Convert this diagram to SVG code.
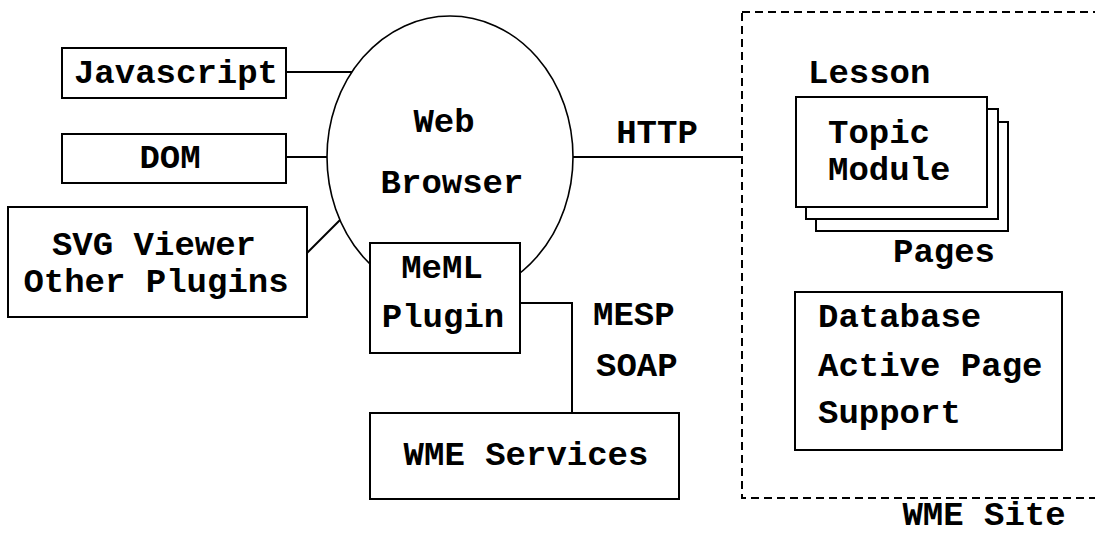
<svg xmlns="http://www.w3.org/2000/svg" width="1095" height="535" viewBox="0 0 1095 535">
<style>
  .box { fill: #fff; stroke: #000; stroke-width: 2; }
  .conn { fill: none; stroke: #000; stroke-width: 2; }
  .t { font-family: "Liberation Mono", "DejaVu Sans Mono", monospace; font-weight: bold; font-size: 34px; fill: #000; }
  .m { text-anchor: middle; }
</style>
<rect width="1095" height="535" fill="#fff"/>
<g id="wme-site">
  <rect x="742" y="12" width="370" height="486" fill="none" stroke="#000" stroke-width="2" stroke-dasharray="8 5"/>
  <text class="t m" x="984" y="525">WME Site</text>
</g>
<g id="connectors">
  <line class="conn" x1="286" y1="72" x2="352" y2="72"/>
  <line class="conn" x1="286" y1="157" x2="328" y2="157"/>
  <line class="conn" x1="307" y1="253" x2="340" y2="220"/>
  <line class="conn" x1="573" y1="157" x2="742" y2="157"/>
  <polyline class="conn" points="520,303 572,303 572,413"/>
  <text class="t m" x="657" y="143">HTTP</text>
  <text class="t" x="593" y="325">MESP</text>
  <text class="t" x="596" y="376">SOAP</text>
</g>
<g id="javascript">
  <rect class="box" x="62" y="48" width="224" height="50"/>
  <text class="t m" x="176" y="83">Javascript</text>
</g>
<g id="dom">
  <rect class="box" x="62" y="134" width="224" height="49"/>
  <text class="t m" x="170" y="168">DOM</text>
</g>
<g id="svg-viewer">
  <rect class="box" x="8" y="207" width="299" height="110"/>
  <text class="t m" x="154" y="255">SVG Viewer</text>
  <text class="t m" x="156" y="292">Other Plugins</text>
</g>
<g id="web-browser">
  <ellipse cx="450" cy="157" rx="123" ry="141" fill="#fff" stroke="#000" stroke-width="1.6"/>
  <text class="t m" x="444" y="132">Web</text>
  <text class="t m" x="452" y="193">Browser</text>
</g>
<g id="meml-plugin">
  <rect class="box" x="370" y="243" width="150" height="110"/>
  <text class="t m" x="442" y="278">MeML</text>
  <text class="t m" x="443" y="327">Plugin</text>
</g>
<g id="wme-services">
  <rect class="box" x="370" y="413" width="309" height="86"/>
  <text class="t m" x="526" y="465">WME Services</text>
</g>
<g id="lesson">
  <text class="t" x="808" y="83">Lesson</text>
  <rect class="box" x="816" y="122" width="192" height="109"/>
  <rect class="box" x="806" y="109" width="192" height="110"/>
  <rect class="box" x="796" y="97" width="191" height="110"/>
  <text class="t" x="828" y="143">Topic</text>
  <text class="t" x="828" y="180">Module</text>
  <text class="t" x="893" y="262">Pages</text>
</g>
<g id="database">
  <rect class="box" x="795" y="292" width="267" height="158"/>
  <text class="t" x="818" y="327">Database</text>
  <text class="t" x="818" y="376">Active Page</text>
  <text class="t" x="818" y="423">Support</text>
</g>
</svg>
